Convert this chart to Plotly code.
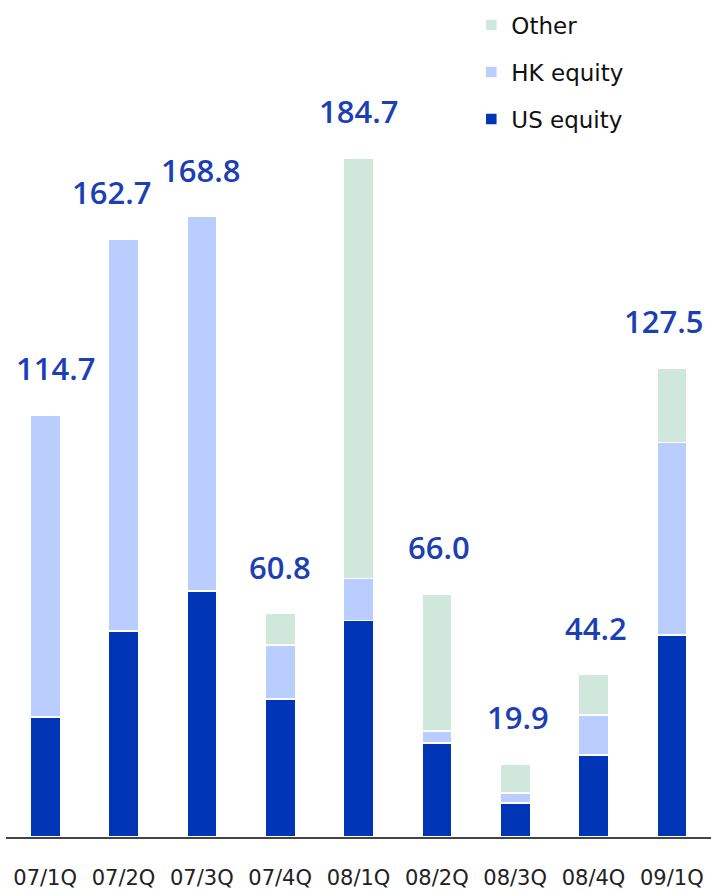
import plotly.graph_objects as go

categories = ["07/1Q", "07/2Q", "07/3Q", "07/4Q", "08/1Q", "08/2Q", "08/3Q", "08/4Q", "09/1Q"]
us_equity = [32.7, 56.1, 67.0, 37.6, 58.9, 25.6, 9.3, 22.3, 55.0]
hk_equity = [82.0, 106.6, 101.8, 14.7, 11.4, 3.3, 2.7, 10.9, 52.4]
other = [0.0, 0.0, 0.0, 8.5, 114.4, 37.1, 7.9, 11.0, 20.1]
totals = [114.7, 162.7, 168.8, 60.8, 184.7, 66.0, 19.9, 44.2, 127.5]
total_labels = ["114.7", "162.7", "168.8", "60.8", "184.7", "66.0", "19.9", "44.2", "127.5"]
label_xshift = [10, -12, -1, 0, 0, 2, 3, 2, -8]

C_US = "#0036B5"
C_HK = "#B9CDFE"
C_OT = "#D0E8DC"
C_LAB = "#1C3FB4"

fig = go.Figure()
for name, vals, col, rank in [("US equity", us_equity, C_US, 3), ("HK equity", hk_equity, C_HK, 2), ("Other", other, C_OT, 1)]:
    fig.add_trace(go.Bar(
        x=categories, y=vals, name=name, marker=dict(color=col, line=dict(color="white", width=1.5)),
        legendgroup=name, legendrank=rank, hoverinfo="skip"))

for i, (c, t, lab) in enumerate(zip(categories, totals, total_labels)):
    fig.add_annotation(x=c, y=t, text=lab, showarrow=False, yanchor="bottom", yshift=24,
                       xshift=label_xshift[i],
                       font=dict(family="Open Sans", size=31, color=C_LAB, weight=600))

fig.update_layout(
    width=711, height=890,
    barmode="stack", bargap=0.615,
    plot_bgcolor="white", paper_bgcolor="white",
    margin=dict(l=6, r=0, t=20, b=53),
    font=dict(family="DejaVu Sans", color="#222222"),
    showlegend=True,
    legend=dict(x=0.66, y=1.02, xanchor="left", yanchor="top", traceorder="grouped",
                tracegroupgap=14, font=dict(size=23, color="#111111"), itemwidth=30,
                bgcolor="rgba(0,0,0,0)"),
    xaxis=dict(showgrid=False, ticks="", showline=True, linecolor="#444444", linewidth=2,
               tickfont=dict(family="DejaVu Sans", size=21, color="#222222"),
               ticklabelstandoff=21, automargin=False),
    yaxis=dict(visible=False, range=[0, 222.3]),
)

fig.write_html("out.html", config={"displayModeBar": False, "staticPlot": True},
               post_script="document.body.style.margin='0';document.body.style.overflow='hidden';")
